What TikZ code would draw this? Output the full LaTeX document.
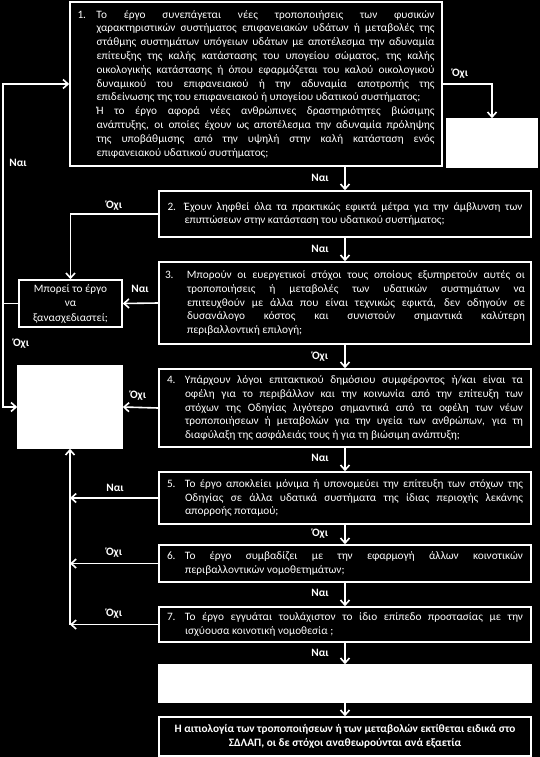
\documentclass[tikz,border=0pt]{standalone}
\usepackage{fontspec}
\setmainfont{Carlito}
\usepackage{tikz}
\usetikzlibrary{arrows.meta}
\newcommand{\qWidth}[0]{338pt}
\newcommand{\qText}[3]{\makebox[#1][l]{#2}\parbox[t]{\qWidth}{\tolerance=10000\hbadness=10000 #3}}

\begin{document}
\begin{tikzpicture}[x=1pt, y=-1pt]
  \tikzset{qbox/.style={draw=white, line width=1.6pt, text=white, inner sep=0pt,
             font=\fontsize{11.3}{13.8}\selectfont},
           blank/.style={draw=white, fill=white, line width=1.6pt, inner sep=0pt},
           lbl/.style={text=white, inner sep=0pt, font=\fontsize{11.3}{13.8}\selectfont\bfseries},
           link/.style={draw=white, line width=1.6pt, -{Straight Barb[length=5pt,width=9pt]}}}
  \useasboundingbox (0,0) rectangle (540,757);
  \fill[black] (0,0) rectangle (540,757);
  \node[qbox, minimum width=372pt, minimum height=164pt] (q1) at (256,84)
    {\qText{19pt}{1.}{Το έργο συνεπάγεται νέες τροποποιήσεις των φυσικών\linebreak
     χαρακτηριστικών συστήματος επιφανειακών υδάτων ή μεταβολές της\linebreak
     στάθμης συστημάτων υπόγειων υδάτων με αποτέλεσμα την αδυναμία\linebreak
     επίτευξης της καλής κατάστασης του υπογείου σώματος, της καλής\linebreak
     οικολογικής κατάστασης ή όπου εφαρμόζεται του καλού οικολογικού\linebreak
     δυναμικού του επιφανειακού ή την αδυναμία αποτροπής της\linebreak
     επιδείνωσης της του επιφανειακού ή υπογείου υδατικού συστήματος;\par
     Ή το έργο αφορά νέες ανθρώπινες δραστηριότητες βιώσιμης\linebreak
     ανάπτυξης, οι οποίες έχουν ως αποτέλεσμα την αδυναμία πρόληψης\linebreak
     της υποβάθμισης από την υψηλή στην καλή κατάσταση ενός\linebreak
     επιφανειακού υδατικού συστήματος;}};
  \node[blank, minimum width=90pt, minimum height=48pt] (e1) at (492,143) {};
  \node[qbox, minimum width=372pt, minimum height=46pt] (q2) at (345,214)
    {\qText{17pt}{2.}{Έχουν ληφθεί όλα τα πρακτικώς εφικτά μέτρα για την άμβλυνση των\linebreak
     επιπτώσεων στην κατάσταση του υδατικού συστήματος;}};
  \node[qbox, minimum width=372pt, minimum height=82pt] (q3) at (345,303)
    {\qText{22pt}{3.}{Μπορούν οι ευεργετικοί στόχοι τους οποίους εξυπηρετούν αυτές οι\linebreak
     τροποποιήσεις ή μεταβολές των υδατικών συστημάτων να\linebreak
     επιτευχθούν με άλλα που είναι τεχνικώς εφικτά, δεν οδηγούν σε\linebreak
     δυσανάλογο κόστος και συνιστούν σημαντικά καλύτερη\linebreak
     περιβαλλοντική επιλογή;}};
  \node[qbox, minimum width=103pt, minimum height=47pt, align=center,
        font=\fontsize{11.3}{14.5}\selectfont] (rd) at (70.5,303.5)
    {Μπορεί το έργο\\να\\ξανασχεδιαστεί;};
  \node[blank, minimum width=104pt, minimum height=82pt] (e2) at (70,407) {};
  \node[qbox, minimum width=372pt, minimum height=78pt] (q4) at (345,408)
    {\qText{18pt}{4.}{Υπάρχουν λόγοι επιτακτικού δημόσιου συμφέροντος ή/και είναι τα\linebreak
     οφέλη για το περιβάλλον και την κοινωνία από την επίτευξη των\linebreak
     στόχων της Οδηγίας λιγότερο σημαντικά από τα οφέλη των νέων\linebreak
     τροποποιήσεων ή μεταβολών για την υγεία των ανθρώπων, για τη\linebreak
     διαφύλαξη της ασφάλειάς τους ή για τη βιώσιμη ανάπτυξη;}};
  \node[qbox, minimum width=372pt, minimum height=52pt] (q5) at (345,498)
    {\qText{18pt}{5.}{Το έργο αποκλείει μόνιμα ή υπονομεύει την επίτευξη των στόχων της\linebreak
     Οδηγίας σε άλλα υδατικά συστήματα της ίδιας περιοχής λεκάνης\linebreak
     απορροής ποταμού;}};
  \node[qbox, minimum width=372pt, minimum height=37pt] (q6) at (345,563.5)
    {\qText{18pt}{6.}{Το έργο συμβαδίζει με την εφαρμογή άλλων κοινοτικών\linebreak
     περιβαλλοντικών νομοθετημάτων;}};
  \node[qbox, minimum width=372pt, minimum height=35pt] (q7) at (345,624.5)
    {\qText{18pt}{7.}{Το έργο εγγυάται τουλάχιστον το ίδιο επίπεδο προστασίας με την\linebreak
     ισχύουσα κοινοτική νομοθεσία ;}};
  \node[blank, minimum width=373pt, minimum height=37pt] (e3) at (345,683.5) {};
  \node[qbox, minimum width=372pt, minimum height=39pt, align=center,
        font=\fontsize{11.3}{13.3}\selectfont\bfseries] (fin) at (345,736.5)
    {Η αιτιολογία των τροποποιήσεων ή των μεταβολών εκτίθεται ειδικά στο\\
     ΣΔΛΑΠ, οι δε στόχοι αναθεωρούνται ανά εξαετία};
  \coordinate (lb) at (3,0);
  \draw[link] (q1.east) -| (e1.north);
  \draw[link] (q2.north |- q1.south) -- (q2.north);
  \draw[link] (q3.north |- q2.south) -- (q3.north);
  \draw[link] (q4.north |- q3.south) -- (q4.north);
  \draw[link] (q5.north |- q4.south) -- (q5.north);
  \draw[link] (q6.north |- q5.south) -- (q6.north);
  \draw[link] (q7.north |- q6.south) -- (q7.north);
  \draw[link] (e3.north |- q7.south) -- (e3.north);
  \draw[link] (fin.north |- e3.south) -- (fin.north);
  \draw[link] (q2.west) -| (rd.north);
  \draw[link] (q3.west) -- (rd.east);
  \draw[link] (rd.west) -- (rd.west -| lb) |- (q1.west);
  \draw[link] (rd.west -| lb) |- (e2.west);
  \draw[link] (q4.west) -- (e2.east);
  \draw[link] (q5.west) -- (q5.west -| e2.south);
  \draw[link] (q6.west) -- (q6.west -| e2.south);
  \draw[link] (q7.west) -- (q7.west -| e2.south);
  \draw[link] (q7.west -| e2.south) -- (e2.south);
  \node[lbl] (n1) at (460,74) {Όχι};
  \node[lbl] (n2) at (18,163) {Ναι};
  \node[lbl] (n3) at (320,178) {Ναι};
  \node[lbl] (n4) at (114,206) {Όχι};
  \node[lbl] (n5) at (320,249) {Ναι};
  \node[lbl] (n6) at (140,289) {Ναι};
  \node[lbl] (n7) at (21,344) {Όχι};
  \node[lbl] (n8) at (320,357) {Όχι};
  \node[lbl] (n9) at (138,396) {Όχι};
  \node[lbl] (n10) at (320,458) {Ναι};
  \node[lbl] (n11) at (115,488) {Ναι};
  \node[lbl] (n12) at (320,534) {Όχι};
  \node[lbl] (n13) at (114,553) {Όχι};
  \node[lbl] (n14) at (320,593) {Ναι};
  \node[lbl] (n15) at (114,614) {Όχι};
  \node[lbl] (n16) at (320,653) {Ναι};
\end{tikzpicture}
\end{document}
